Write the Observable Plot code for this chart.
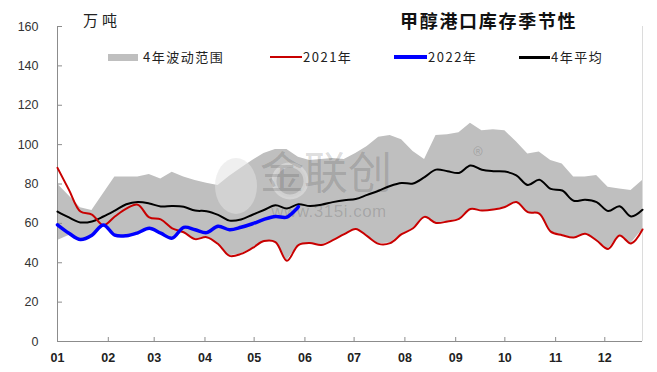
<!DOCTYPE html>
<html><head><meta charset="utf-8">
<script src="https://cdn.jsdelivr.net/npm/d3@7"></script>
<script src="https://cdn.jsdelivr.net/npm/@observablehq/plot@0.6"></script>
<style>
body{margin:0;background:#fff;}
#wrap{position:relative;width:657px;height:372px;font-family:"Noto Sans CJK SC",sans-serif;color:#222;}
.abs{position:absolute;white-space:nowrap;line-height:1;}
.lg{font-size:13px;letter-spacing:1.5px;top:50px;}
</style></head><body><div id="wrap"></div>
<script>
// Week dates (seasonal axis, reference year)
const weekDates = ["2021-01-01","2021-01-08","2021-01-15","2021-01-22","2021-01-29","2021-02-05","2021-02-12","2021-02-19","2021-02-26","2021-03-05","2021-03-12","2021-03-19","2021-03-26","2021-04-02","2021-04-09","2021-04-16","2021-04-23","2021-04-30","2021-05-07","2021-05-14","2021-05-21","2021-05-28","2021-06-04","2021-06-11","2021-06-18","2021-06-25","2021-07-02","2021-07-09","2021-07-16","2021-07-23","2021-07-30","2021-08-06","2021-08-13","2021-08-20","2021-08-27","2021-09-03","2021-09-10","2021-09-17","2021-09-24","2021-10-01","2021-10-08","2021-10-15","2021-10-22","2021-10-29","2021-11-05","2021-11-12","2021-11-19","2021-11-26","2021-12-03","2021-12-10","2021-12-17","2021-12-24"];
const monthStarts = ["2021-01-01","2021-02-01","2021-03-01","2021-04-01","2021-05-01","2021-06-01","2021-07-01","2021-08-01","2021-09-01","2021-10-01","2021-11-01","2021-12-01"];
const monthLabels = ["01","02","03","04","05","06","07","08","09","10","11","12"];
const yTicks = [0,20,40,60,80,100,120,140,160];

// 4-year range (万吨)
const bandHigh = [80,74,68,66.5,75,83.5,83.5,83.5,84.8,82.6,86,83.5,81.8,80.4,79.2,84,88,92,95.5,97.5,97.5,93.6,92,92.5,93,92.5,95.5,99,103.8,104.6,102.5,96.5,92.5,104.6,105,106,110.8,107,107.5,107,101.5,95.3,96.2,91.9,90.2,83.5,83.5,84.3,78.4,77.5,76.7,81.8];
const bandLow = [51.3,53.8,51.5,53.5,58.5,53.8,53.5,55,57.2,54.8,52.3,55.5,52,53,49.5,43.5,44.5,47.5,51,50.5,41,49,50,49,51.5,54.5,57.2,53.5,49.6,50,54.5,57.5,63.3,60.2,61,62.3,67.3,66.5,67,68.3,70.8,65.7,65,55.8,54,52.8,54.7,51.3,47,53.8,49.8,56.9];
// 2021
const s2021 = [88.2,77,66,64.5,59,63.5,67.5,69.5,63,62,57.5,55.5,52,53,49.5,43.5,44.5,47.5,51,50.5,41,49,50,49,51.5,54.5,57.2,53.5,49.6,50,54.5,57.5,63.3,60.2,61,62.3,67.3,66.5,67,68.3,70.8,65.7,65,55.8,54,52.8,54.7,51.3,47,53.8,49.8,56.9];
// 2022
const s2022 = [59.3,55,51.8,54,59.2,54,53.7,55.2,57.5,55,52.5,58,56.8,55.3,58.5,56.8,58,59.8,62,63.5,63.2,68.5];
// 4-year average
const avg4y = [66,63,60.5,61,63.5,66.5,69.7,70.8,70.1,68.6,68.8,68.4,66.5,66.2,64.3,61.4,62,64.4,66.8,69.2,67.6,69.7,68.8,69.5,70.8,71.8,72.4,74.5,76.6,79,80.5,80.3,83.5,87.3,86.5,85.6,89.4,87.2,86.5,86.3,84.4,79.5,82.2,77.5,76.7,71.5,72,70.8,66.3,68.7,63.5,66.9];

const parse = d3.utcParse("%Y-%m-%d");
const table = weekDates.map((d, i) => ({date: parse(d), lo: bandLow[i], hi: bandHigh[i], avg: avg4y[i], y2021: s2021[i], y2022: i < s2022.length ? s2022[i] : null}));
const monthDates = monthStarts.map(parse);

const W = 657, H = 372, mL = 57, mR = 15, mT = 26, mB = 31;
const plotW = W - mL - mR, plotH = H - mT - mB;

function watermark() {
  const g = d3.create("svg:g").attr("pointer-events", "none");
  // logo approximation
  g.append("ellipse").attr("cx", 236).attr("cy", 186).attr("rx", 21).attr("ry", 28).attr("fill", "#e2e2e2").attr("fill-opacity", 0.55);
  g.append("circle").attr("cx", 290).attr("cy", 181).attr("r", 16).attr("fill", "#9a9a9a").attr("fill-opacity", 0.25).attr("stroke", "#e6e6e6").attr("stroke-opacity", 0.55).attr("stroke-width", 5);
  const t = g.append("g").attr("fill", "#000").attr("fill-opacity", 0.15).attr("font-family", "Noto Sans CJK SC, sans-serif");
  t.append("text").attr("x", 326).attr("y", 189).attr("font-size", 44).text("金联创");
  t.append("text").attr("x", 478).attr("y", 164).attr("font-size", 22).text("®");
  t.append("text").attr("x", 329).attr("y", 217).attr("font-size", 17).attr("font-family", "Liberation Sans, Arial, sans-serif").attr("letter-spacing", 0.5).text("www.315i.com");
  return g.node();
}

const chart = Plot.plot({
  width: W, height: H,
  marginLeft: mL, marginRight: mR, marginTop: mT, marginBottom: mB,
  style: {background: "transparent", fontFamily: "Liberation Sans, Arial, sans-serif", fontSize: "12.5px", color: "#333"},
  x: {type: "utc", domain: [table[0].date, table[table.length - 1].date], label: null},
  y: {domain: [0, 160], label: null},
  marks: [
    Plot.areaY(table, {x: "date", y1: "lo", y2: "hi", fill: "#bfbfbf"}),
    watermark,
    Plot.ruleX([table[table.length - 1].date], {stroke: "#dcdcdc"}),
    Plot.ruleY([0], {stroke: "#8c8c8c"}),
    Plot.ruleX([table[0].date], {stroke: "#8c8c8c"}),
    Plot.tickY(yTicks, {y: d => d, stroke: "#8c8c8c", insetRight: plotW - 5}),
    Plot.tickX(monthDates, {x: d => d, stroke: "#8c8c8c", insetTop: plotH - 4}),
    Plot.axisY({ticks: yTicks, tickSize: 0, tickPadding: 19, fill: "#333"}),
    Plot.axisX({ticks: monthDates, tickSize: 0, tickPadding: 12, fontWeight: "bold", fill: "#222", tickFormat: d => monthLabels[d.getUTCMonth()]}),
    Plot.lineY(table, {x: "date", y: "avg", stroke: "#000", strokeWidth: 2, curve: "catmull-rom"}),
    Plot.lineY(table, {x: "date", y: "y2021", stroke: "#c80000", strokeWidth: 2, curve: "catmull-rom"}),
    Plot.lineY(table.slice(0, s2022.length), {x: "date", y: "y2022", stroke: "#0000ff", strokeWidth: 3.5, curve: "catmull-rom"})
  ]
});

const wrap = document.getElementById("wrap");
wrap.appendChild(chart);
chart.style.position = "absolute"; chart.style.left = "0"; chart.style.top = "0";

function addDiv(html, css, cls) {
  const d = document.createElement("div");
  d.className = "abs " + (cls || "");
  d.style.cssText += css;
  d.innerHTML = html;
  wrap.appendChild(d);
  return d;
}
addDiv("甲醇港口库存季节性", "left:400px;top:11px;font-size:18px;font-weight:700;letter-spacing:1.7px;color:#111;");
addDiv("万吨", "left:83px;top:12px;font-size:15px;letter-spacing:4px;color:#222;");
addDiv("", "left:108px;top:53.5px;width:30px;height:7px;background:#bfbfbf;");
addDiv("4年波动范围", "left:143px;", "lg");
addDiv("", "left:270px;top:56px;width:32px;height:2px;background:#c80000;");
addDiv("2021年", "left:303px;", "lg");
addDiv("", "left:394px;top:55px;width:33px;height:4px;background:#0000ff;");
addDiv("2022年", "left:428px;", "lg");
addDiv("", "left:519px;top:56px;width:31px;height:2.5px;background:#000;");
addDiv("4年平均", "left:551px;", "lg");
</script></body></html>
